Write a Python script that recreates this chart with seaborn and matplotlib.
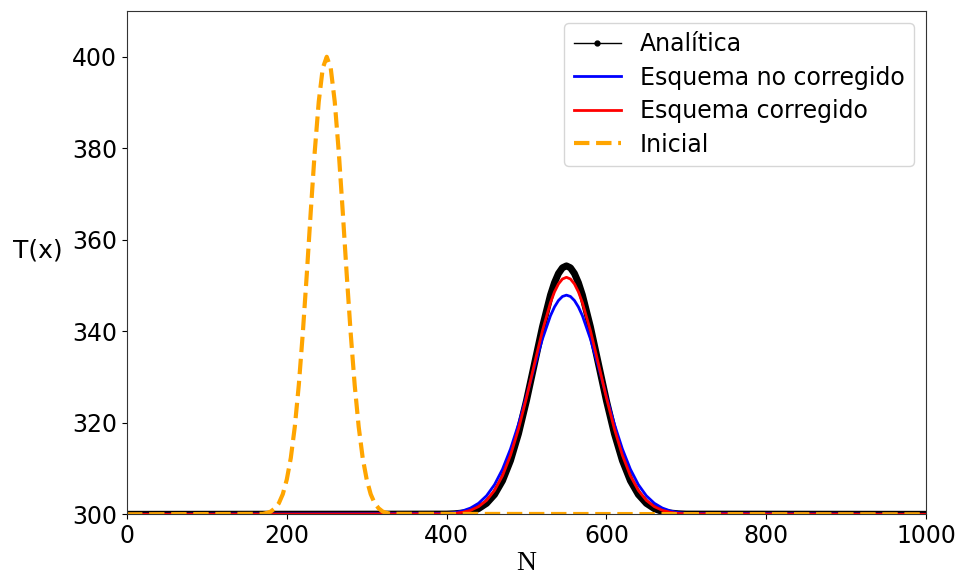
import matplotlib
matplotlib.use("Agg")
import matplotlib.pyplot as plt
from matplotlib.lines import Line2D
import seaborn as sns
import pandas as pd

# ---- data ----
N_bump = [0, 400, 410, 420, 430, 440, 450, 460, 470, 480, 490, 500, 510, 520, 530, 535,
          540, 545, 550, 555, 560, 565, 570, 580, 590, 600, 610, 620, 630, 640, 650,
          660, 670, 680, 690, 700, 1000]

T_analitica = [300.0, 300.05, 300.12, 300.28, 300.60, 301.24, 302.39, 304.32, 307.35,
               311.75, 317.63, 324.86, 332.93, 340.99, 347.92, 350.61, 352.63, 353.88,
               354.30, 353.88, 352.63, 350.61, 347.92, 340.99, 332.93, 324.86, 317.63,
               311.75, 307.35, 304.32, 302.39, 301.24, 300.60, 300.28, 300.12, 300.05,
               300.0]

T_no_corregido = [300.0, 300.18, 300.38, 300.74, 301.37, 302.41, 304.05, 306.48, 309.86,
                  314.28, 319.69, 325.84, 332.27, 338.35, 343.40, 345.31, 346.73, 347.61,
                  347.90, 347.61, 346.73, 345.31, 343.40, 338.35, 332.27, 325.84, 319.69,
                  314.28, 309.86, 306.48, 304.05, 302.41, 301.37, 300.74, 300.38, 300.18,
                  300.0]

T_corregido = [300.0, 300.09, 300.20, 300.43, 300.87, 301.68, 303.04, 305.22, 308.44,
               312.92, 318.67, 325.50, 332.91, 340.14, 346.25, 348.60, 350.35, 351.43,
               351.80, 351.43, 350.35, 348.60, 346.25, 340.14, 332.91, 325.50, 318.67,
               312.92, 308.44, 305.22, 303.04, 301.68, 300.87, 300.43, 300.20, 300.09,
               300.0]

N_inicial = [0, 170, 175, 180, 185, 190, 195, 200, 205, 210, 215, 220, 225, 230, 235,
             240, 245, 250, 255, 260, 265, 270, 275, 280, 285, 290, 295, 300, 305,
             310, 315, 320, 325, 330, 1000]
T_inicial = [300.0, 300.1, 300.3, 300.6, 301.3, 302.4, 304.4, 307.6, 312.3, 319.1, 328.2,
             339.5, 352.4, 366.2, 379.3, 390.2, 397.5, 400.0, 397.5, 390.2, 379.3,
             366.2, 352.4, 339.5, 328.2, 319.1, 312.3, 307.6, 304.4, 302.4, 301.3,
             300.6, 300.3, 300.1, 300.0]

labels = ["Analítica", "Esquema no corregido", "Esquema corregido", "Inicial"]

df_bump = pd.DataFrame({"N": N_bump, "a": T_analitica, "nc": T_no_corregido, "c": T_corregido})
df_ini = pd.DataFrame({"N": N_inicial, "T": T_inicial})

fig = plt.figure(figsize=(9.57, 5.74), dpi=100)
ax = fig.add_axes([0.1327, 0.104, 0.8349, 0.8768])

sns.lineplot(data=df_bump, x="N", y="a", ax=ax, color="black", linewidth=5,
             estimator=None, sort=False)
sns.lineplot(data=df_bump, x="N", y="nc", ax=ax, color="blue", linewidth=2,
             estimator=None, sort=False)
sns.lineplot(data=df_bump, x="N", y="c", ax=ax, color="red", linewidth=2,
             estimator=None, sort=False)
sns.lineplot(data=df_ini, x="N", y="T", ax=ax, color="orange", linewidth=3,
             linestyle="--", estimator=None, sort=False)

ax.set_xlim(0, 1000)
ax.set_ylim(300, 410)
ax.set_xticks([0, 200, 400, 600, 800, 1000])
ax.set_yticks([300, 320, 340, 360, 380, 400])
ax.tick_params(labelsize=17)
for s in ax.spines.values():
    s.set_color("#333333")

ax.set_xlabel("N", fontsize=20, family="Liberation Serif", labelpad=2)
ax.set_ylabel("T(x)", fontsize=18, rotation=0)
ax.yaxis.set_label_coords(-0.112, 0.5)

handles = [
    Line2D([], [], color="black", linewidth=1, marker=".", markersize=7),
    Line2D([], [], color="blue", linewidth=2),
    Line2D([], [], color="red", linewidth=2),
    Line2D([], [], color="orange", linewidth=3, linestyle="--"),
]
ax.legend(handles, labels, loc="upper right", fontsize=17, labelspacing=0.4)

fig.savefig("out.png", dpi=100)
